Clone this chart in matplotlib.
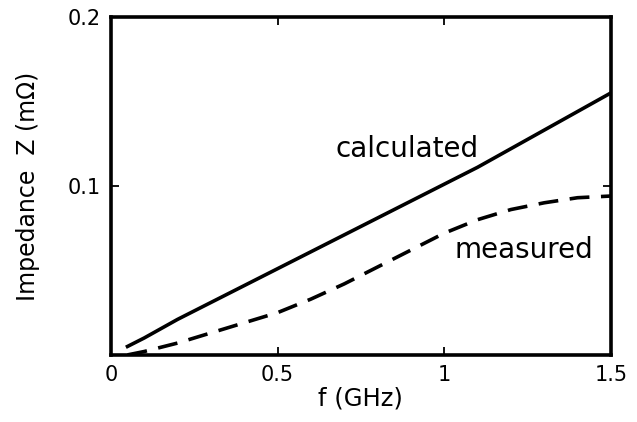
import matplotlib
matplotlib.use('Agg')
import matplotlib.pyplot as plt

plt.rcParams['font.family'] = 'sans-serif'
plt.rcParams['font.sans-serif'] = ['DejaVu Sans']

# Werte
f_ghz = [0.05, 0.1, 0.2, 0.3, 0.4, 0.5, 0.6, 0.7, 0.8, 0.9, 1.0, 1.1, 1.2, 1.3, 1.4, 1.5]
z_calculated = [0.005, 0.010, 0.021, 0.031, 0.041, 0.051, 0.061, 0.071, 0.081,
                0.091, 0.101, 0.111, 0.122, 0.133, 0.144, 0.155]
z_measured = [0.000, 0.002, 0.007, 0.013, 0.019, 0.025, 0.033, 0.042, 0.052,
              0.062, 0.072, 0.080, 0.086, 0.090, 0.093, 0.094]

x_ticks = [0, 0.5, 1, 1.5]
x_labels = ['0', '0.5', '1', '1.5']
y_ticks = [0.1, 0.2]
y_labels = ['0.1', '0.2']

fig = plt.figure(figsize=(6.37, 4.22), dpi=100)
ax = fig.add_axes([0.174, 0.159, 0.785, 0.801])

ax.plot(f_ghz, z_calculated, color='black', linewidth=2.6)
ax.plot(f_ghz, z_measured, color='black', linewidth=2.6, linestyle=(0, (5.5, 3.2)))

ax.text(0.89, 0.122, 'calculated', fontsize=20, ha='center', va='center')
ax.text(1.24, 0.062, 'measured', fontsize=20, ha='center', va='center')

ax.set_xlim(0, 1.5)
ax.set_ylim(0, 0.2)
ax.set_xticks(x_ticks)
ax.set_xticklabels(x_labels)
ax.set_yticks(y_ticks)
ax.set_yticklabels(y_labels)
ax.tick_params(direction='in', length=6, width=1.3, top=True, right=True,
               labelsize=15, pad=7)
for spine in ax.spines.values():
    spine.set_linewidth(2.6)

ax.set_xlabel('f (GHz)', fontsize=17.5, labelpad=1)
ax.set_ylabel('Impedance  Z (m\u03a9)', fontsize=17, labelpad=20)

fig.savefig('out.png', dpi=100)
